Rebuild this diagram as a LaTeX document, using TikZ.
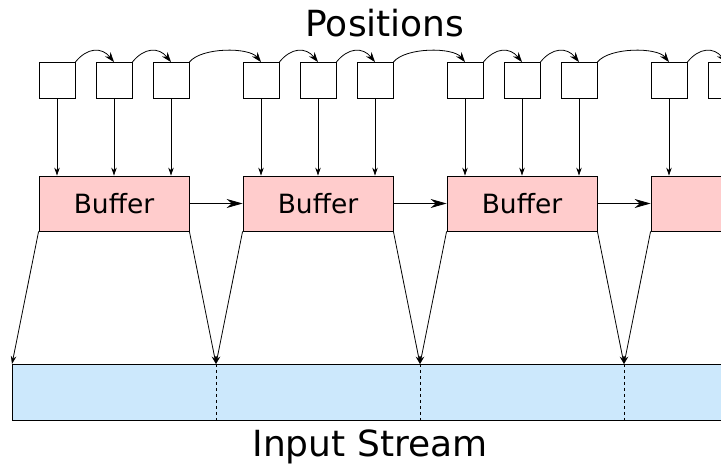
\documentclass[tikz,border=0pt]{standalone}
\usepackage{fontspec}
\setmainfont{DejaVu Sans}
\usetikzlibrary{arrows.meta}

\definecolor{bufpink}{RGB}{255,204,204}
\definecolor{streamblue}{RGB}{204,232,252}

\begin{document}
\begin{tikzpicture}[x=1pt,y=1pt]
                    \tikzstyle{posbox}=[draw,line width=0.8pt,minimum size=36pt,inner sep=0pt]
                    \tikzstyle{bufbox}=[draw,line width=0.8pt,fill=bufpink,minimum width=150pt,minimum height=55pt,inner sep=0pt,font=\fontsize{26.5}{30}\selectfont]
                    \tikzstyle{streambox}=[draw,line width=0.8pt,fill=streamblue,minimum width=788pt,minimum height=56pt,inner sep=0pt]
                    \tikzstyle{titletext}=[anchor=base,font=\fontsize{36}{40}\selectfont]
                    \tikzstyle{smallarrow}=[line width=0.8pt,-{Stealth[length=8pt,width=5.5pt]}]
                    \tikzstyle{curvearrow}=[line width=0.8pt,-{Stealth[length=10pt,width=7pt]}]
                    \tikzstyle{bigarrow}=[line width=0.8pt,-{Stealth[length=16pt,width=9pt]}]
                    \useasboundingbox (0,0) rectangle (721,465);
                    \clip (0,0) rectangle (721,465);

                    \node[titletext] (postitle) at (385,428) {Positions};
                    \node[titletext] (intitle) at (370,8.5) {Input Stream};

                    \node[posbox] (p1) at (57,384.5) {};
                    \node[posbox] (p2) at (114,384.5) {};
                    \node[posbox] (p3) at (171,384.5) {};
                    \node[posbox] (p4) at (261,384.5) {};
                    \node[posbox] (p5) at (318,384.5) {};
                    \node[posbox] (p6) at (375,384.5) {};
                    \node[posbox] (p7) at (465,384.5) {};
                    \node[posbox] (p8) at (522,384.5) {};
                    \node[posbox] (p9) at (579,384.5) {};
                    \node[posbox] (p10) at (669,384.5) {};
                    \node[posbox] (p11) at (726,384.5) {};

                    \node[bufbox] (buf1) at (114,261.5) {Buffer};
                    \node[bufbox] (buf2) at (318,261.5) {Buffer};
                    \node[bufbox] (buf3) at (522,261.5) {Buffer};
                    \node[bufbox] (buf4) at (726,261.5) {};

                    \node[streambox] (stream) at (406,73) {};
                    \coordinate (s0) at (12,101);
                    \coordinate (s1) at (216,101);
                    \coordinate (s2) at (420,101);
                    \coordinate (s3) at (624,101);

                    % next position
                    \draw[curvearrow] (p1.north east) .. controls +(12,15) and +(-12,15) .. (p2.north);
                    \draw[curvearrow] (p2.north east) .. controls +(12,15) and +(-12,15) .. (p3.north);
                    \draw[curvearrow] (p3.north east) .. controls +(12,15) and +(-12,15) .. (p4.north);
                    \draw[curvearrow] (p4.north east) .. controls +(12,15) and +(-12,15) .. (p5.north);
                    \draw[curvearrow] (p5.north east) .. controls +(12,15) and +(-12,15) .. (p6.north);
                    \draw[curvearrow] (p6.north east) .. controls +(12,15) and +(-12,15) .. (p7.north);
                    \draw[curvearrow] (p7.north east) .. controls +(12,15) and +(-12,15) .. (p8.north);
                    \draw[curvearrow] (p8.north east) .. controls +(12,15) and +(-12,15) .. (p9.north);
                    \draw[curvearrow] (p9.north east) .. controls +(12,15) and +(-12,15) .. (p10.north);
                    \draw[curvearrow] (p10.north east) .. controls +(12,15) and +(-12,15) .. (p11.north);

                    % positions into buffers
                    \draw[smallarrow] (p1.south) -- (p1.south |- buf1.north);
                    \draw[smallarrow] (p2.south) -- (p2.south |- buf1.north);
                    \draw[smallarrow] (p3.south) -- (p3.south |- buf1.north);
                    \draw[smallarrow] (p4.south) -- (p4.south |- buf2.north);
                    \draw[smallarrow] (p5.south) -- (p5.south |- buf2.north);
                    \draw[smallarrow] (p6.south) -- (p6.south |- buf2.north);
                    \draw[smallarrow] (p7.south) -- (p7.south |- buf3.north);
                    \draw[smallarrow] (p8.south) -- (p8.south |- buf3.north);
                    \draw[smallarrow] (p9.south) -- (p9.south |- buf3.north);
                    \draw[smallarrow] (p10.south) -- (p10.south |- buf4.north);
                    \draw[smallarrow] (p11.south) -- (p11.south |- buf4.north);

                    \draw[bigarrow] (buf1) -- (buf2);
                    \draw[bigarrow] (buf2) -- (buf3);
                    \draw[bigarrow] (buf3) -- (buf4);

                    % buffers onto the stream
                    \draw[smallarrow] (buf1.south west) -- (s0);
                    \draw[smallarrow] (buf1.south east) -- (s1);
                    \draw[smallarrow] (buf2.south west) -- (s1);
                    \draw[smallarrow] (buf2.south east) -- (s2);
                    \draw[smallarrow] (buf3.south west) -- (s2);
                    \draw[smallarrow] (buf3.south east) -- (s3);
                    \draw[smallarrow] (buf4.south west) -- (s3);

                    \draw[dashed,line width=0.8pt] (s0) -- (s0 |- stream.south);
                    \draw[dashed,line width=0.8pt] (s1) -- (s1 |- stream.south);
                    \draw[dashed,line width=0.8pt] (s2) -- (s2 |- stream.south);
                    \draw[dashed,line width=0.8pt] (s3) -- (s3 |- stream.south);
                \end{tikzpicture}
\end{document}
